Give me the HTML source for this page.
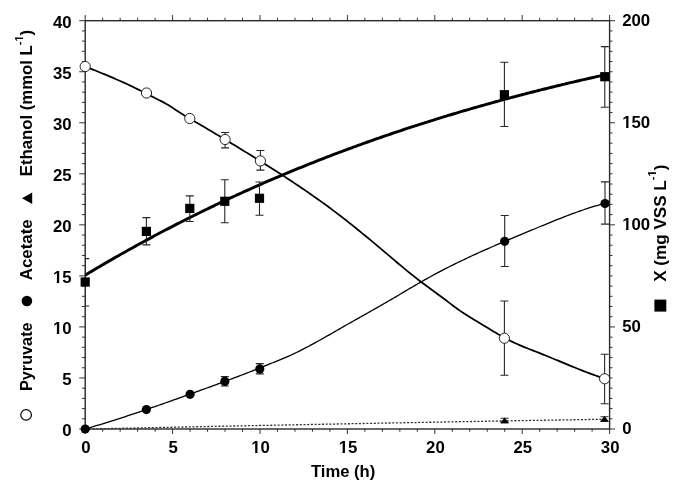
<!DOCTYPE html><html><head><meta charset="utf-8"><style>html,body{margin:0;padding:0;background:#fff;overflow:hidden}svg{display:block;filter:grayscale(1)}text{font-family:"Liberation Sans",sans-serif;font-weight:bold;fill:#000}</style></head><body>
<svg width="685" height="485" viewBox="0 0 685 485">
<rect width="685" height="485" fill="#fff"/>
<path d="M85.20 429.00H79.20M85.20 418.79H82.00M85.20 408.58H82.00M85.20 398.38H82.00M85.20 388.17H82.00M85.20 377.96H79.20M85.20 367.75H82.00M85.20 357.55H82.00M85.20 347.34H82.00M85.20 337.13H82.00M85.20 326.93H79.20M85.20 316.72H82.00M85.20 306.51H82.00M85.20 296.30H82.00M85.20 286.10H82.00M85.20 275.89H79.20M85.20 265.68H82.00M85.20 255.47H82.00M85.20 245.26H82.00M85.20 235.06H82.00M85.20 224.85H79.20M85.20 214.64H82.00M85.20 204.44H82.00M85.20 194.23H82.00M85.20 184.02H82.00M85.20 173.81H79.20M85.20 163.60H82.00M85.20 153.40H82.00M85.20 143.19H82.00M85.20 132.98H82.00M85.20 122.77H79.20M85.20 112.57H82.00M85.20 102.36H82.00M85.20 92.15H82.00M85.20 81.94H82.00M85.20 71.74H79.20M85.20 61.53H82.00M85.20 51.32H82.00M85.20 41.12H82.00M85.20 30.91H82.00M85.20 20.70H79.20M609.60 429.00H615.00M609.60 418.79H612.50M609.60 408.58H612.50M609.60 398.38H612.50M609.60 388.17H612.50M609.60 377.96H612.50M609.60 367.75H612.50M609.60 357.55H612.50M609.60 347.34H612.50M609.60 337.13H612.50M609.60 326.93H615.00M609.60 316.72H612.50M609.60 306.51H612.50M609.60 296.30H612.50M609.60 286.10H612.50M609.60 275.89H612.50M609.60 265.68H612.50M609.60 255.47H612.50M609.60 245.26H612.50M609.60 235.06H612.50M609.60 224.85H615.00M609.60 214.64H612.50M609.60 204.44H612.50M609.60 194.23H612.50M609.60 184.02H612.50M609.60 173.81H612.50M609.60 163.61H612.50M609.60 153.40H612.50M609.60 143.19H612.50M609.60 132.98H612.50M609.60 122.77H615.00M609.60 112.57H612.50M609.60 102.36H612.50M609.60 92.15H612.50M609.60 81.94H612.50M609.60 71.74H612.50M609.60 61.53H612.50M609.60 51.32H612.50M609.60 41.12H612.50M609.60 30.91H612.50M609.60 20.70H615.00M85.20 429.00V434.00M85.20 20.70V15.00M102.68 429.00V431.80M102.68 20.70V17.70M120.16 429.00V431.80M120.16 20.70V17.70M137.64 429.00V431.80M137.64 20.70V17.70M155.12 429.00V431.80M155.12 20.70V17.70M172.60 429.00V434.00M172.60 20.70V15.00M190.08 429.00V431.80M190.08 20.70V17.70M207.56 429.00V431.80M207.56 20.70V17.70M225.04 429.00V431.80M225.04 20.70V17.70M242.52 429.00V431.80M242.52 20.70V17.70M260.00 429.00V434.00M260.00 20.70V15.00M277.48 429.00V431.80M277.48 20.70V17.70M294.96 429.00V431.80M294.96 20.70V17.70M312.44 429.00V431.80M312.44 20.70V17.70M329.92 429.00V431.80M329.92 20.70V17.70M347.40 429.00V434.00M347.40 20.70V15.00M364.88 429.00V431.80M364.88 20.70V17.70M382.36 429.00V431.80M382.36 20.70V17.70M399.84 429.00V431.80M399.84 20.70V17.70M417.32 429.00V431.80M417.32 20.70V17.70M434.80 429.00V434.00M434.80 20.70V15.00M452.28 429.00V431.80M452.28 20.70V17.70M469.76 429.00V431.80M469.76 20.70V17.70M487.24 429.00V431.80M487.24 20.70V17.70M504.72 429.00V431.80M504.72 20.70V17.70M522.20 429.00V434.00M522.20 20.70V15.00M539.68 429.00V431.80M539.68 20.70V17.70M557.16 429.00V431.80M557.16 20.70V17.70M574.64 429.00V431.80M574.64 20.70V17.70M592.12 429.00V431.80M592.12 20.70V17.70M609.60 429.00V434.00M609.60 20.70V15.00" stroke="#333" stroke-width="1" fill="none"/>
<rect x="85.2" y="20.7" width="524.40" height="408.30" fill="none" stroke="#2a2a2a" stroke-width="1.4"/>
<g transform="translate(71.60 436.20) scale(1.05 1)"><text font-size="16" text-anchor="end">0</text></g>
<g transform="translate(71.60 385.16) scale(1.05 1)"><text font-size="16" text-anchor="end">5</text></g>
<g transform="translate(71.60 334.12) scale(1.05 1)"><text font-size="16" text-anchor="end">10</text><rect x="-17.29" y="-2.23" width="3.18" height="3.13" fill="#fff"/><rect x="-11.82" y="-2.23" width="2.97" height="3.13" fill="#fff"/></g>
<g transform="translate(71.60 283.09) scale(1.05 1)"><text font-size="16" text-anchor="end">15</text><rect x="-17.29" y="-2.23" width="3.18" height="3.13" fill="#fff"/><rect x="-11.82" y="-2.23" width="2.97" height="3.13" fill="#fff"/></g>
<g transform="translate(71.60 232.05) scale(1.05 1)"><text font-size="16" text-anchor="end">20</text></g>
<g transform="translate(71.60 181.01) scale(1.05 1)"><text font-size="16" text-anchor="end">25</text></g>
<g transform="translate(71.60 129.97) scale(1.05 1)"><text font-size="16" text-anchor="end">30</text></g>
<g transform="translate(71.60 78.94) scale(1.05 1)"><text font-size="16" text-anchor="end">35</text></g>
<g transform="translate(71.60 27.90) scale(1.05 1)"><text font-size="16" text-anchor="end">40</text></g>
<g transform="translate(622.20 434.30) scale(1.05 1)"><text font-size="16">0</text></g>
<g transform="translate(622.20 332.23) scale(1.05 1)"><text font-size="16">50</text></g>
<g transform="translate(622.20 230.15) scale(1.05 1)"><text font-size="16">100</text><rect x="0.51" y="-2.23" width="3.18" height="3.13" fill="#fff"/><rect x="5.98" y="-2.23" width="2.97" height="3.13" fill="#fff"/></g>
<g transform="translate(622.20 128.07) scale(1.05 1)"><text font-size="16">150</text><rect x="0.51" y="-2.23" width="3.18" height="3.13" fill="#fff"/><rect x="5.98" y="-2.23" width="2.97" height="3.13" fill="#fff"/></g>
<g transform="translate(622.20 26.00) scale(1.05 1)"><text font-size="16">200</text></g>
<g transform="translate(85.80 452.90) scale(1.05 1)"><text font-size="16" text-anchor="middle">0</text></g>
<g transform="translate(173.20 452.90) scale(1.05 1)"><text font-size="16" text-anchor="middle">5</text></g>
<g transform="translate(260.60 452.90) scale(1.05 1)"><text font-size="16" text-anchor="middle">10</text><rect x="-8.39" y="-2.23" width="3.18" height="3.13" fill="#fff"/><rect x="-2.92" y="-2.23" width="2.97" height="3.13" fill="#fff"/></g>
<g transform="translate(348.00 452.90) scale(1.05 1)"><text font-size="16" text-anchor="middle">15</text><rect x="-8.39" y="-2.23" width="3.18" height="3.13" fill="#fff"/><rect x="-2.92" y="-2.23" width="2.97" height="3.13" fill="#fff"/></g>
<g transform="translate(435.40 452.90) scale(1.05 1)"><text font-size="16" text-anchor="middle">20</text></g>
<g transform="translate(522.80 452.90) scale(1.05 1)"><text font-size="16" text-anchor="middle">25</text></g>
<g transform="translate(610.20 452.90) scale(1.05 1)"><text font-size="16" text-anchor="middle">30</text></g>
<g transform="translate(343.10 476.80) scale(1.04 1)"><text font-size="16" text-anchor="middle">Time (h)</text></g>
<path d="M85.20 429.07L87.57 429.02L89.95 428.97L92.32 428.92L94.69 428.87L97.07 428.82L99.44 428.77L101.81 428.72L104.19 428.67L106.56 428.62L108.94 428.57L111.31 428.52L113.68 428.47L116.06 428.42L118.43 428.37L120.80 428.32L123.18 428.27L125.55 428.22L127.92 428.17L130.30 428.12L132.67 428.07L135.04 428.02L137.42 427.97L139.79 427.92L142.16 427.87L144.54 427.82L146.91 427.77L149.28 427.72L151.66 427.67L154.03 427.62L156.41 427.58L158.78 427.53L161.15 427.48L163.53 427.43L165.90 427.38L168.27 427.33L170.65 427.28L173.02 427.23L175.39 427.18L177.77 427.13L180.14 427.09L182.51 427.04L184.89 426.99L187.26 426.94L189.63 426.89L192.01 426.84L194.38 426.80L196.76 426.75L199.13 426.70L201.50 426.65L203.88 426.60L206.25 426.55L208.62 426.51L211.00 426.46L213.37 426.41L215.74 426.36L218.12 426.31L220.49 426.27L222.86 426.22L225.24 426.17L227.61 426.12L229.98 426.08L232.36 426.03L234.73 425.98L237.11 425.93L239.48 425.89L241.85 425.84L244.23 425.79L246.60 425.74L248.97 425.70L251.35 425.65L253.72 425.60L256.09 425.56L258.47 425.51L260.84 425.46L263.21 425.42L265.59 425.37L267.96 425.32L270.33 425.28L272.71 425.23L275.08 425.18L277.45 425.14L279.83 425.09L282.20 425.04L284.58 425.00L286.95 424.95L289.32 424.90L291.70 424.86L294.07 424.81L296.44 424.77L298.82 424.72L301.19 424.67L303.56 424.63L305.94 424.58L308.31 424.54L310.68 424.49L313.06 424.45L315.43 424.40L317.80 424.35L320.18 424.31L322.55 424.26L324.93 424.22L327.30 424.17L329.67 424.13L332.05 424.08L334.42 424.04L336.79 423.99L339.17 423.95L341.54 423.90L343.91 423.86L346.29 423.81L348.66 423.77L351.03 423.72L353.41 423.68L355.78 423.63L358.15 423.59L360.53 423.54L362.90 423.50L365.27 423.45L367.65 423.41L370.02 423.36L372.40 423.32L374.77 423.28L377.14 423.23L379.52 423.19L381.89 423.14L384.26 423.10L386.64 423.05L389.01 423.01L391.38 422.97L393.76 422.92L396.13 422.88L398.50 422.84L400.88 422.79L403.25 422.75L405.62 422.70L408.00 422.66L410.37 422.62L412.75 422.57L415.12 422.53L417.49 422.49L419.87 422.44L422.24 422.40L424.61 422.36L426.99 422.31L429.36 422.27L431.73 422.23L434.11 422.18L436.48 422.14L438.85 422.10L441.23 422.06L443.60 422.01L445.97 421.97L448.35 421.93L450.72 421.89L453.09 421.84L455.47 421.80L457.84 421.76L460.22 421.72L462.59 421.67L464.96 421.63L467.34 421.59L469.71 421.55L472.08 421.50L474.46 421.46L476.83 421.42L479.20 421.38L481.58 421.34L483.95 421.29L486.32 421.25L488.70 421.21L491.07 421.17L493.44 421.13L495.82 421.09L498.19 421.04L500.57 421.00L502.94 420.96L505.31 420.92L507.69 420.88L510.06 420.84L512.43 420.80L514.81 420.75L517.18 420.71L519.55 420.67L521.93 420.63L524.30 420.59L526.67 420.55L529.05 420.51L531.42 420.47L533.79 420.43L536.17 420.39L538.54 420.35L540.92 420.31L543.29 420.26L545.66 420.22L548.04 420.18L550.41 420.14L552.78 420.10L555.16 420.06L557.53 420.02L559.90 419.98L562.28 419.94L564.65 419.90L567.02 419.86L569.40 419.82L571.77 419.78L574.14 419.74L576.52 419.70L578.89 419.66L581.26 419.62L583.64 419.58L586.01 419.54L588.39 419.50L590.76 419.46L593.13 419.43L595.51 419.39L597.88 419.35L600.25 419.31L602.63 419.27L605.00 419.23" stroke="#333" stroke-width="1.3" stroke-dasharray="2.1 1.6" fill="none"/>
<path d="M85.20 66.44L87.57 67.41L89.95 68.37L92.32 69.34L94.69 70.30L97.07 71.26L99.44 72.23L101.81 73.20L104.19 74.18L106.56 75.16L108.94 76.15L111.31 77.15L113.68 78.16L116.06 79.19L118.43 80.22L120.80 81.27L123.18 82.34L125.55 83.42L127.92 84.53L130.30 85.65L132.67 86.78L135.04 87.93L137.42 89.10L139.79 90.29L142.16 91.48L144.54 92.69L146.91 93.92L149.28 95.15L151.66 96.35L154.03 97.54L156.41 98.72L158.78 99.91L161.15 101.13L163.53 102.39L165.90 103.71L168.27 105.10L170.65 106.57L173.02 108.09L175.39 109.65L177.77 111.21L180.14 112.75L182.51 114.26L184.89 115.71L187.26 117.11L189.63 118.49L192.01 119.87L194.38 121.25L196.76 122.64L199.13 124.04L201.50 125.44L203.88 126.84L206.25 128.25L208.62 129.66L211.00 131.07L213.37 132.48L215.74 133.90L218.12 135.32L220.49 136.75L222.86 138.17L225.24 139.60L227.61 141.03L229.98 142.47L232.36 143.91L234.73 145.35L237.11 146.80L239.48 148.25L241.85 149.70L244.23 151.16L246.60 152.62L248.97 154.08L251.35 155.55L253.72 157.02L256.09 158.50L258.47 159.98L260.84 161.46L263.21 162.95L265.59 164.45L267.96 165.94L270.33 167.45L272.71 168.96L275.08 170.48L277.45 172.00L279.83 173.53L282.20 175.07L284.58 176.61L286.95 178.16L289.32 179.72L291.70 181.29L294.07 182.87L296.44 184.46L298.82 186.05L301.19 187.66L303.56 189.27L305.94 190.90L308.31 192.54L310.68 194.19L313.06 195.85L315.43 197.52L317.80 199.20L320.18 200.90L322.55 202.61L324.93 204.33L327.30 206.07L329.67 207.81L332.05 209.58L334.42 211.36L336.79 213.15L339.17 214.96L341.54 216.78L343.91 218.62L346.29 220.47L348.66 222.34L351.03 224.22L353.41 226.12L355.78 228.03L358.15 229.95L360.53 231.88L362.90 233.82L365.27 235.77L367.65 237.73L370.02 239.70L372.40 241.68L374.77 243.66L377.14 245.65L379.52 247.65L381.89 249.65L384.26 251.66L386.64 253.67L389.01 255.68L391.38 257.69L393.76 259.70L396.13 261.71L398.50 263.71L400.88 265.70L403.25 267.67L405.62 269.64L408.00 271.58L410.37 273.51L412.75 275.42L415.12 277.30L417.49 279.16L419.87 281.00L422.24 282.80L424.61 284.57L426.99 286.32L429.36 288.06L431.73 289.79L434.11 291.51L436.48 293.23L438.85 294.97L441.23 296.71L443.60 298.48L445.97 300.28L448.35 302.09L450.72 303.91L453.09 305.71L455.47 307.48L457.84 309.20L460.22 310.85L462.59 312.45L464.96 314.01L467.34 315.52L469.71 317.00L472.08 318.46L474.46 319.90L476.83 321.34L479.20 322.77L481.58 324.20L483.95 325.65L486.32 327.09L488.70 328.54L491.07 329.97L493.44 331.40L495.82 332.81L498.19 334.19L500.57 335.56L502.94 336.89L505.31 338.20L507.69 339.46L510.06 340.68L512.43 341.86L514.81 342.99L517.18 344.07L519.55 345.11L521.93 346.11L524.30 347.09L526.67 348.04L529.05 348.98L531.42 349.91L533.79 350.83L536.17 351.75L538.54 352.68L540.92 353.62L543.29 354.57L545.66 355.53L548.04 356.50L550.41 357.48L552.78 358.46L555.16 359.44L557.53 360.43L559.90 361.42L562.28 362.41L564.65 363.40L567.02 364.38L569.40 365.37L571.77 366.34L574.14 367.31L576.52 368.27L578.89 369.23L581.26 370.17L583.64 371.10L586.01 372.02L588.39 372.93L590.76 373.81L593.13 374.69L595.51 375.54L597.88 376.38L600.25 377.19L602.63 377.98L605.00 378.75" stroke="#000" stroke-width="1.75" fill="none"/>
<path d="M85.20 429.01L87.57 428.32L89.95 427.62L92.32 426.92L94.69 426.21L97.07 425.49L99.44 424.77L101.81 424.05L104.19 423.32L106.56 422.58L108.94 421.84L111.31 421.09L113.68 420.34L116.06 419.58L118.43 418.82L120.80 418.06L123.18 417.28L125.55 416.51L127.92 415.73L130.30 414.94L132.67 414.16L135.04 413.36L137.42 412.57L139.79 411.77L142.16 410.96L144.54 410.16L146.91 409.34L149.28 408.53L151.66 407.71L154.03 406.89L156.41 406.07L158.78 405.24L161.15 404.41L163.53 403.58L165.90 402.74L168.27 401.91L170.65 401.07L173.02 400.22L175.39 399.38L177.77 398.53L180.14 397.68L182.51 396.83L184.89 395.98L187.26 395.13L189.63 394.27L192.01 393.42L194.38 392.56L196.76 391.70L199.13 390.84L201.50 389.98L203.88 389.12L206.25 388.25L208.62 387.39L211.00 386.52L213.37 385.65L215.74 384.78L218.12 383.91L220.49 383.03L222.86 382.16L225.24 381.27L227.61 380.39L229.98 379.50L232.36 378.61L234.73 377.72L237.11 376.82L239.48 375.91L241.85 375.00L244.23 374.09L246.60 373.17L248.97 372.25L251.35 371.32L253.72 370.39L256.09 369.45L258.47 368.50L260.84 367.55L263.21 366.59L265.59 365.63L267.96 364.67L270.33 363.71L272.71 362.75L275.08 361.80L277.45 360.84L279.83 359.88L282.20 358.90L284.58 357.90L286.95 356.88L289.32 355.83L291.70 354.75L294.07 353.64L296.44 352.50L298.82 351.34L301.19 350.15L303.56 348.94L305.94 347.70L308.31 346.45L310.68 345.18L313.06 343.90L315.43 342.59L317.80 341.28L320.18 339.95L322.55 338.62L324.93 337.27L327.30 335.92L329.67 334.57L332.05 333.21L334.42 331.84L336.79 330.48L339.17 329.12L341.54 327.76L343.91 326.40L346.29 325.05L348.66 323.70L351.03 322.36L353.41 321.01L355.78 319.67L358.15 318.33L360.53 316.99L362.90 315.65L365.27 314.31L367.65 312.97L370.02 311.63L372.40 310.28L374.77 308.94L377.14 307.60L379.52 306.25L381.89 304.90L384.26 303.55L386.64 302.18L389.01 300.81L391.38 299.43L393.76 298.02L396.13 296.61L398.50 295.19L400.88 293.76L403.25 292.34L405.62 290.92L408.00 289.51L410.37 288.10L412.75 286.71L415.12 285.33L417.49 283.96L419.87 282.60L422.24 281.26L424.61 279.92L426.99 278.60L429.36 277.28L431.73 275.98L434.11 274.69L436.48 273.42L438.85 272.16L441.23 270.91L443.60 269.67L445.97 268.45L448.35 267.23L450.72 266.04L453.09 264.85L455.47 263.68L457.84 262.52L460.22 261.37L462.59 260.23L464.96 259.10L467.34 257.98L469.71 256.87L472.08 255.77L474.46 254.68L476.83 253.60L479.20 252.53L481.58 251.46L483.95 250.41L486.32 249.35L488.70 248.31L491.07 247.27L493.44 246.24L495.82 245.21L498.19 244.19L500.57 243.18L502.94 242.16L505.31 241.16L507.69 240.15L510.06 239.15L512.43 238.15L514.81 237.16L517.18 236.16L519.55 235.17L521.93 234.18L524.30 233.19L526.67 232.20L529.05 231.21L531.42 230.22L533.79 229.23L536.17 228.24L538.54 227.25L540.92 226.27L543.29 225.28L545.66 224.30L548.04 223.32L550.41 222.35L552.78 221.38L555.16 220.42L557.53 219.47L559.90 218.53L562.28 217.60L564.65 216.67L567.02 215.76L569.40 214.86L571.77 213.97L574.14 213.10L576.52 212.24L578.89 211.39L581.26 210.57L583.64 209.75L586.01 208.96L588.39 208.19L590.76 207.43L593.13 206.70L595.51 205.99L597.88 205.30L600.25 204.63L602.63 203.99L605.00 203.37" stroke="#000" stroke-width="1.3" fill="none"/>
<path d="M85.20 275.13L87.57 273.70L89.95 272.28L92.32 270.87L94.69 269.46L97.07 268.05L99.44 266.66L101.81 265.26L104.19 263.88L106.56 262.50L108.94 261.12L111.31 259.76L113.68 258.39L116.06 257.03L118.43 255.68L120.80 254.34L123.18 253.00L125.55 251.66L127.92 250.33L130.30 249.01L132.67 247.69L135.04 246.38L137.42 245.07L139.79 243.77L142.16 242.47L144.54 241.18L146.91 239.89L149.28 238.61L151.66 237.34L154.03 236.07L156.41 234.81L158.78 233.55L161.15 232.29L163.53 231.05L165.90 229.80L168.27 228.57L170.65 227.34L173.02 226.11L175.39 224.89L177.77 223.67L180.14 222.46L182.51 221.25L184.89 220.05L187.26 218.86L189.63 217.67L192.01 216.48L194.38 215.30L196.76 214.13L199.13 212.96L201.50 211.80L203.88 210.64L206.25 209.48L208.62 208.33L211.00 207.19L213.37 206.05L215.74 204.91L218.12 203.78L220.49 202.66L222.86 201.54L225.24 200.43L227.61 199.32L229.98 198.21L232.36 197.11L234.73 196.02L237.11 194.93L239.48 193.84L241.85 192.76L244.23 191.69L246.60 190.62L248.97 189.55L251.35 188.49L253.72 187.43L256.09 186.38L258.47 185.33L260.84 184.29L263.21 183.25L265.59 182.22L267.96 181.19L270.33 180.17L272.71 179.15L275.08 178.13L277.45 177.12L279.83 176.12L282.20 175.12L284.58 174.12L286.95 173.13L289.32 172.14L291.70 171.16L294.07 170.18L296.44 169.21L298.82 168.24L301.19 167.27L303.56 166.31L305.94 165.36L308.31 164.40L310.68 163.46L313.06 162.51L315.43 161.58L317.80 160.64L320.18 159.71L322.55 158.79L324.93 157.86L327.30 156.95L329.67 156.03L332.05 155.13L334.42 154.22L336.79 153.32L339.17 152.42L341.54 151.53L343.91 150.64L346.29 149.76L348.66 148.88L351.03 148.01L353.41 147.13L355.78 146.27L358.15 145.40L360.53 144.55L362.90 143.69L365.27 142.84L367.65 141.99L370.02 141.15L372.40 140.31L374.77 139.47L377.14 138.64L379.52 137.82L381.89 136.99L384.26 136.17L386.64 135.36L389.01 134.55L391.38 133.74L393.76 132.93L396.13 132.13L398.50 131.34L400.88 130.54L403.25 129.75L405.62 128.97L408.00 128.19L410.37 127.41L412.75 126.64L415.12 125.86L417.49 125.10L419.87 124.34L422.24 123.58L424.61 122.82L426.99 122.07L429.36 121.32L431.73 120.57L434.11 119.83L436.48 119.09L438.85 118.36L441.23 117.63L443.60 116.90L445.97 116.18L448.35 115.46L450.72 114.74L453.09 114.03L455.47 113.32L457.84 112.61L460.22 111.91L462.59 111.21L464.96 110.51L467.34 109.82L469.71 109.13L472.08 108.44L474.46 107.76L476.83 107.08L479.20 106.40L481.58 105.73L483.95 105.05L486.32 104.39L488.70 103.72L491.07 103.06L493.44 102.41L495.82 101.75L498.19 101.10L500.57 100.45L502.94 99.81L505.31 99.16L507.69 98.53L510.06 97.89L512.43 97.26L514.81 96.63L517.18 96.00L519.55 95.38L521.93 94.76L524.30 94.14L526.67 93.52L529.05 92.91L531.42 92.30L533.79 91.70L536.17 91.09L538.54 90.49L540.92 89.90L543.29 89.30L545.66 88.71L548.04 88.12L550.41 87.53L552.78 86.95L555.16 86.37L557.53 85.79L559.90 85.22L562.28 84.64L564.65 84.07L567.02 83.51L569.40 82.94L571.77 82.38L574.14 81.82L576.52 81.27L578.89 80.71L581.26 80.16L583.64 79.61L586.01 79.07L588.39 78.52L590.76 77.98L593.13 77.44L595.51 76.91L597.88 76.37L600.25 75.84L602.63 75.31L605.00 74.79" stroke="#000" stroke-width="2.95" fill="none"/>
<clipPath id="pc"><rect x="85.2" y="20.7" width="524.40" height="408.30"/></clipPath>
<path clip-path="url(#pc)" d="M85.20 258.60V306.00M81.20 258.60H89.20M81.20 306.00H89.20M146.40 217.60V244.90M142.40 217.60H150.40M142.40 244.90H150.40M189.80 195.90V221.50M185.80 195.90H193.80M185.80 221.50H193.80M224.80 179.80V222.80M220.80 179.80H228.80M220.80 222.80H228.80M259.50 182.00V215.20M255.50 182.00H263.50M255.50 215.20H263.50M504.40 62.30V126.50M500.40 62.30H508.40M500.40 126.50H508.40M604.80 46.60V107.30M600.80 46.60H608.80M600.80 107.30H608.80M225.10 132.50V147.90M221.10 132.50H229.10M221.10 147.90H229.10M260.40 150.50V170.10M256.40 150.50H264.40M256.40 170.10H264.40M504.40 301.00V375.30M500.40 301.00H508.40M500.40 375.30H508.40M604.60 354.30V403.70M600.60 354.30H608.60M600.60 403.70H608.60M224.80 376.60V386.00M220.80 376.60H228.80M220.80 386.00H228.80M259.80 363.60V373.90M255.80 363.60H263.80M255.80 373.90H263.80M504.70 215.50V266.50M500.70 215.50H508.70M500.70 266.50H508.70M605.00 181.90V224.10M601.00 181.90H609.00M601.00 224.10H609.00M504.60 418.30V423.00M500.60 418.30H508.60M500.60 423.00H508.60M604.50 416.70V421.40M600.50 416.70H608.50M600.50 421.40H608.50" stroke="#262626" stroke-width="1.1" fill="none"/>
<rect x="80.60" y="277.40" width="9.2" height="9.2" fill="#000"/>
<rect x="141.80" y="226.80" width="9.2" height="9.2" fill="#000"/>
<rect x="185.20" y="203.80" width="9.2" height="9.2" fill="#000"/>
<rect x="220.20" y="196.70" width="9.2" height="9.2" fill="#000"/>
<rect x="254.90" y="193.70" width="9.2" height="9.2" fill="#000"/>
<rect x="499.80" y="90.10" width="9.2" height="9.2" fill="#000"/>
<rect x="600.20" y="72.10" width="9.2" height="9.2" fill="#000"/>
<circle cx="85.2" cy="429" r="4.6" fill="#000"/>
<circle cx="146.4" cy="409.6" r="4.6" fill="#000"/>
<circle cx="190.1" cy="394.3" r="4.6" fill="#000"/>
<circle cx="224.8" cy="381.4" r="4.6" fill="#000"/>
<circle cx="259.8" cy="368.9" r="4.6" fill="#000"/>
<circle cx="504.7" cy="241.3" r="4.6" fill="#000"/>
<circle cx="605" cy="203.5" r="4.6" fill="#000"/>
<circle cx="85.2" cy="66.5" r="5.1" fill="#fff" stroke="#222" stroke-width="1"/>
<circle cx="146.5" cy="93.0" r="5.1" fill="#fff" stroke="#222" stroke-width="1"/>
<circle cx="189.8" cy="118.5" r="5.1" fill="#fff" stroke="#222" stroke-width="1"/>
<circle cx="225.1" cy="139.5" r="5.1" fill="#fff" stroke="#222" stroke-width="1"/>
<circle cx="260.4" cy="160.9" r="5.1" fill="#fff" stroke="#222" stroke-width="1"/>
<circle cx="504.4" cy="338.2" r="5.1" fill="#fff" stroke="#222" stroke-width="1"/>
<circle cx="604.6" cy="378.8" r="5.1" fill="#fff" stroke="#222" stroke-width="1"/>
<path d="M504.60 417.50L508.90 423.10L500.30 423.10Z" fill="#000"/>
<path d="M604.50 416.00L608.80 421.60L600.20 421.60Z" fill="#000"/>
<circle cx="26.1" cy="414.9" r="5.3" fill="#fff" stroke="#000" stroke-width="1.2"/>
<g transform="translate(32.30 391.00) rotate(-90) scale(1.015 1)"><text font-size="16">Pyruvate</text></g>
<circle cx="26.9" cy="301" r="5.3" fill="#000"/>
<g transform="translate(32.30 280.20) rotate(-90) scale(1.055 1)"><text font-size="16">Acetate</text></g>
<path d="M22 198.2L32.2 192.4L32.2 204Z" fill="#000"/>
<g transform="translate(32.30 176.20) rotate(-90) scale(1.045 1)"><text font-size="16">Ethanol (mmol L<tspan font-size="10.5" dy="-9.6">-1</tspan><tspan dy="9.6">)</tspan></text><rect x="129.19" y="-11.27" width="2.04" height="2.57" fill="#fff"/><rect x="132.77" y="-11.27" width="1.91" height="2.57" fill="#fff"/></g>
<rect x="654.4" y="299.6" width="11.9" height="12" fill="#000"/>
<g transform="translate(665.80 281.80) rotate(-90) scale(1.068 1)"><text font-size="16">X (mg VSS L<tspan font-size="10.5" dy="-9.6">-1</tspan><tspan dy="9.6">)</tspan></text><rect x="98.98" y="-11.27" width="2.04" height="2.57" fill="#fff"/><rect x="102.56" y="-11.27" width="1.91" height="2.57" fill="#fff"/></g>
</svg></body></html>
